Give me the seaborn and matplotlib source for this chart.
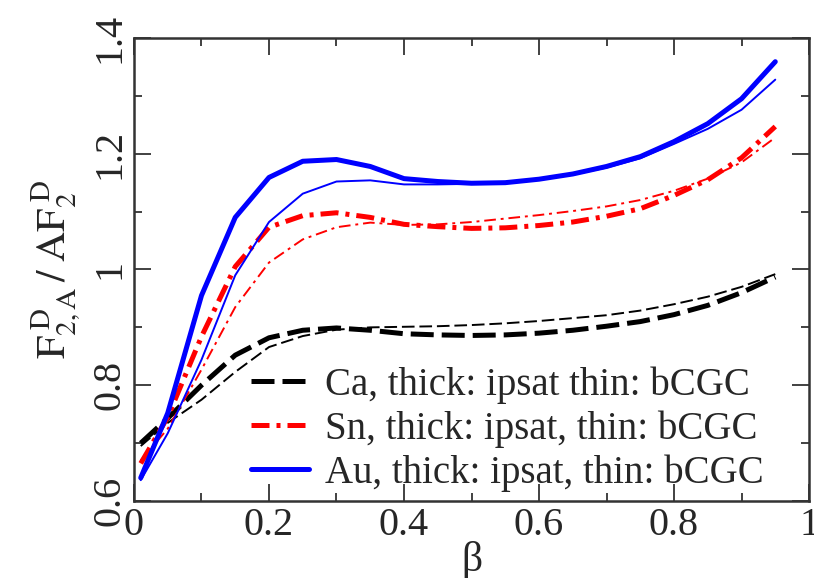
import pandas as pd
import matplotlib.pyplot as plt
import seaborn as sns
from matplotlib.ticker import MultipleLocator

# beta grid
beta = [0.01, 0.05, 0.1, 0.15, 0.2, 0.25, 0.3, 0.35, 0.4, 0.45, 0.5,
        0.55, 0.6, 0.65, 0.7, 0.75, 0.8, 0.85, 0.9, 0.95]

# Ca (black dashed)
ca_ipsat = [0.700, 0.743, 0.800, 0.852, 0.882, 0.895, 0.899, 0.895, 0.889, 0.887, 0.886,
            0.887, 0.890, 0.895, 0.902, 0.910, 0.922, 0.938, 0.960, 0.987]
ca_bcgc = [0.695, 0.735, 0.775, 0.823, 0.866, 0.885, 0.896, 0.900, 0.901, 0.902, 0.904,
           0.907, 0.911, 0.916, 0.921, 0.929, 0.940, 0.953, 0.970, 0.992]

# Sn (red dash-dot)
sn_ipsat = [0.665, 0.745, 0.884, 1.005, 1.073, 1.093, 1.098, 1.090, 1.078, 1.074, 1.071,
            1.072, 1.076, 1.082, 1.092, 1.105, 1.128, 1.155, 1.193, 1.247]
sn_bcgc = [0.670, 0.725, 0.827, 0.935, 1.012, 1.052, 1.073, 1.081, 1.077, 1.078, 1.082,
           1.088, 1.094, 1.101, 1.109, 1.120, 1.136, 1.157, 1.185, 1.228]

# Au (blue solid)
au_ipsat = [0.640, 0.752, 0.955, 1.090, 1.159, 1.187, 1.190, 1.178, 1.157, 1.152, 1.149,
            1.150, 1.156, 1.165, 1.178, 1.195, 1.221, 1.252, 1.295, 1.359]
au_bcgc = [0.636, 0.717, 0.844, 0.990, 1.082, 1.131, 1.152, 1.154, 1.147, 1.147, 1.148,
           1.151, 1.156, 1.164, 1.176, 1.192, 1.217, 1.243, 1.276, 1.328]

labels = ["Ca, thick: ipsat thin: bCGC",
          "Sn, thick: ipsat, thin: bCGC",
          "Au, thick: ipsat, thin: bCGC"]

sns.set_style("ticks")
plt.rcParams["font.family"] = "serif"
plt.rcParams["font.serif"] = ["Liberation Serif", "DejaVu Serif"]
plt.rcParams["mathtext.fontset"] = "stix"

fig = plt.figure(figsize=(8.14, 5.78), dpi=100)
ax = fig.add_axes([0.1646, 0.1332, 0.8293, 0.8011])

thick = 3.6
thin = 1.4
series = [
    (ca_ipsat, "black", thick, (0, (4.6, 1.6)), labels[0]),
    (ca_bcgc, "black", thin, (0, (6.5, 2.5)), None),
    (sn_ipsat, "red", thick, (0, (3.6, 1.4, 0.8, 1.4)), labels[1]),
    (sn_bcgc, "red", thin, (0, (6, 2.5, 1.5, 2.5)), None),
    (au_ipsat, "blue", thick, "-", labels[2]),
    (au_bcgc, "blue", thin, "-", None),
]
for vals, col, lw, ls, lab in series:
    df = pd.DataFrame({"beta": beta, "ratio": vals})
    sns.lineplot(data=df, x="beta", y="ratio", ax=ax, color=col, linewidth=lw,
                 linestyle=ls, label=lab, legend=False)

ax.set_xlim(0, 1)
ax.set_ylim(0.6, 1.4)
ax.xaxis.set_minor_locator(MultipleLocator(0.1))
ax.yaxis.set_minor_locator(MultipleLocator(0.1))
ax.set_xticks([0, 0.2, 0.4, 0.6, 0.8, 1.0])
ax.set_xticklabels(["0", "0.2", "0.4", "0.6", "0.8", "1"])
ax.set_yticks([0.6, 0.8, 1.0, 1.2, 1.4])
ax.set_yticklabels(["0.6", "0.8", "1", "1.2", "1.4"], rotation=90, va="center")

ax.tick_params(which="both", direction="in", top=True, right=True,
               labelsize=29, color="#333333")
ax.tick_params(which="major", length=12, width=1.3, pad=4)
ax.tick_params(which="minor", length=6, width=1.3)
for s in ax.spines.values():
    s.set_linewidth(1.8)
    s.set_color("#333333")

ax.set_xlabel("β", fontsize=30, labelpad=-2)
ax.set_ylabel(r"$\mathrm{F}_{\mathrm{2,A}}^{\;\mathrm{D}}\,/\;\mathrm{AF}_{\mathrm{2}}^{\;\mathrm{D}}$",
              fontsize=30, labelpad=6)

ax.legend(loc="upper left", bbox_to_anchor=(0.15, 0.325), frameon=False,
          fontsize=28, handlelength=1.5, handletextpad=0.4, labelspacing=0.17,
          borderaxespad=0)

plt.savefig("out.png", dpi=100)
plt.close()
